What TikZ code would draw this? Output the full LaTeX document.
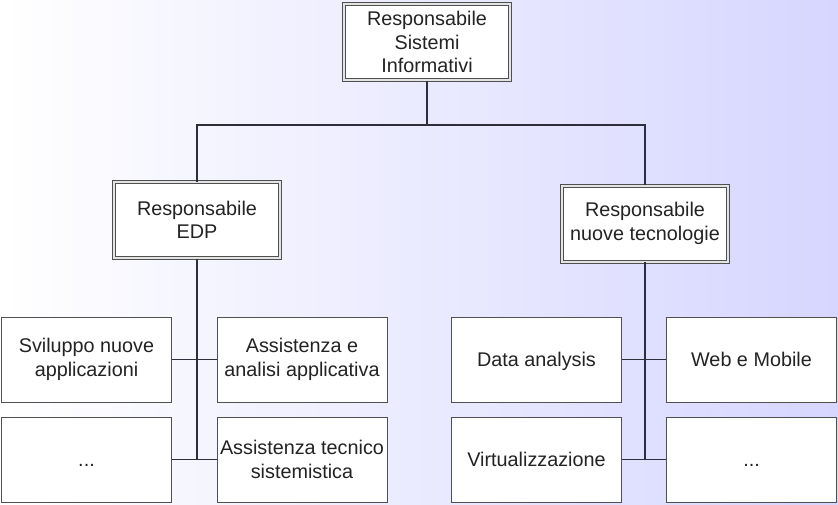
\documentclass[tikz,border=0pt]{standalone}
\usepackage{fontspec}
\setmainfont{Liberation Sans}
\definecolor{bgright}{RGB}{214,214,255}
\definecolor{boxline}{RGB}{80,80,80}
\definecolor{conn}{RGB}{45,45,60}
\definecolor{txt}{RGB}{35,35,35}
\tikzset{
  lbl/.style={align=center, text=txt, font=\fontsize{19.8}{23.5}\selectfont},
  mgr/.style={lbl, draw=boxline, line width=1pt, double=gray!22, double distance=2pt,
    fill=white, minimum width=166pt, minimum height=76pt, inner sep=0pt},
  leaf/.style={lbl, draw=boxline, line width=1pt, fill=white,
    minimum width=170pt, minimum height=85pt, inner sep=0pt},
  oneline/.style={text height=14pt, text depth=0pt},
  link/.style={draw=conn, line width=1.3pt}
}
\begin{document}
\begin{tikzpicture}[x=1pt,y=-1pt]
\useasboundingbox (0,0) rectangle (838,504);
\shade[left color=white, right color=bgright] (0,0) rectangle (838,504);

\node[mgr] (top) at (427,42) {Responsabile\\Sistemi\\Informativi};
\node[mgr] (edp) at (197,220) {Responsabile\\EDP};
\node[mgr] (tech) at (645,223.5) {Responsabile\\nuove tecnologie};

\node[leaf] (l1) at (86.5,359.5) {Sviluppo nuove\\applicazioni};
\node[leaf] (l2) at (302,359.5) {Assistenza e\\analisi applicativa};
\node[leaf, oneline] (l3) at (86.5,459.5) {...};
\node[leaf] (l4) at (302,459.5) {Assistenza tecnico\\sistemistica};

\node[leaf, oneline] (r1) at (536.5,359.5) {Data analysis};
\node[leaf, oneline] (r2) at (751.5,359.5) {Web e Mobile};
\node[leaf, oneline] (r3) at (536.5,459.5) {Virtualizzazione};
\node[leaf, oneline] (r4) at (751.5,459.5) {...};

\coordinate (hl) at (197,125);
\coordinate (hm) at (427,125);
\coordinate (hr) at (645,125);

\draw[link] (top.south) -- (hm);
\draw[link] (edp.north) -- (hl) -- (hr) -- (tech.north);

\draw[link] (edp.south) -- (edp.south |- l3.east);
\draw[link] (l1.east) -- (l2.west);
\draw[link] (l3.east) -- (l4.west);

\draw[link] (tech.south) -- (tech.south |- r3.east);
\draw[link] (r1.east) -- (r2.west);
\draw[link] (r3.east) -- (r4.west);
\end{tikzpicture}
\end{document}
